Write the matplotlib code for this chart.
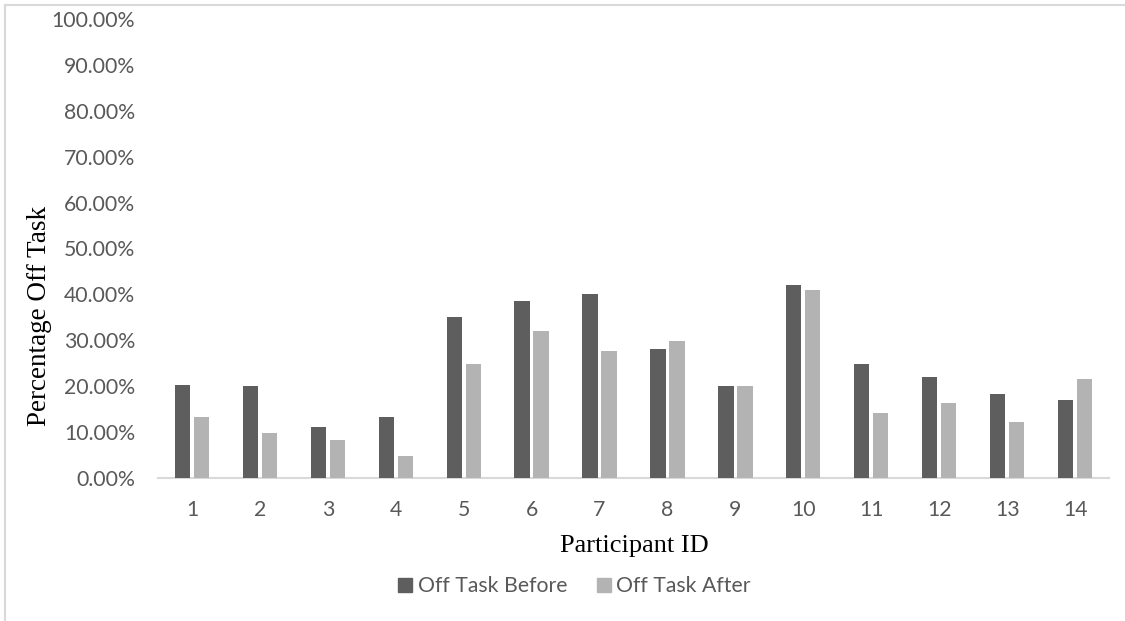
import matplotlib
matplotlib.use("Agg")
import matplotlib.pyplot as plt
from matplotlib.lines import Line2D
from matplotlib.ticker import FuncFormatter, MultipleLocator
import numpy as np

participants = ["1", "2", "3", "4", "5", "6", "7", "8", "9", "10", "11", "12", "13", "14"]
off_task_before = [20.2, 20.0, 11.1, 13.2, 35.1, 38.5, 40.1, 28.2, 20.0, 42.0, 24.8, 21.9, 18.2, 17.1]
off_task_after = [13.2, 9.8, 8.2, 4.9, 24.9, 32.0, 27.7, 29.8, 20.0, 41.0, 14.2, 16.3, 12.3, 21.6]

W, H = 1125, 621
fig = plt.figure(figsize=(W / 100, H / 100), dpi=100)
fig.patch.set_facecolor("white")

# plot area in pixel coordinates
left, right, top, bottom = 158, 1109, 19, 478
ax = fig.add_axes([left / W, 1 - bottom / H, (right - left) / W, (bottom - top) / H])

tick_font = "Lato"
tick_color = "#595959"
tick_size = 15.3
dark = "#5e5e5e"
light = "#b3b3b3"

x = np.arange(len(participants))
bw = 0.225
off = 0.14
ax.bar(x - off, off_task_before, width=bw, color=dark, label="Off Task Before", zorder=3)
ax.bar(x + off, off_task_after, width=bw, color=light, label="Off Task After", zorder=3)

ax.set_xlim(-0.5, len(participants) - 0.5)
ax.set_ylim(0, 100)
ax.yaxis.set_major_locator(MultipleLocator(10))
ax.yaxis.set_major_formatter(FuncFormatter(lambda v, p: f"{v:.2f}%"))
ax.set_xticks(x)
ax.set_xticklabels(participants)

for s in ["top", "right", "left"]:
    ax.spines[s].set_visible(False)
ax.spines["bottom"].set_color("#d9d9d9")
ax.spines["bottom"].set_linewidth(1.5)
ax.tick_params(axis="both", length=0, labelsize=tick_size, labelcolor=tick_color)
ax.tick_params(axis="y", pad=16.5)
ax.tick_params(axis="x", pad=16)
for lbl in ax.get_xticklabels() + ax.get_yticklabels():
    lbl.set_fontfamily(tick_font)

# axis titles
fig.text(40 / W, 1 - 316 / H, "Percentage Off Task", rotation=90, ha="center", va="center",
         fontsize=19.5, family="Liberation Serif", color="black")
fig.text(634 / W, 1 - 546 / H, "Participant ID", ha="center", va="center",
         fontsize=19, family="Liberation Serif", color="black")

# legend
handles = [Line2D([], [], marker="s", linestyle="none", markersize=10, color=dark),
           Line2D([], [], marker="s", linestyle="none", markersize=10, color=light)]
leg = fig.legend(handles, ["Off Task Before", "Off Task After"], loc="center",
                 bbox_to_anchor=(575 / W, 1 - 586 / H), ncol=2, frameon=False,
                 handlelength=0.6, handletextpad=0.3, columnspacing=1.4,
                 prop={"family": tick_font, "size": tick_size})
for t in leg.get_texts():
    t.set_color(tick_color)

# chart area border (left and top edges)
fig.add_artist(Line2D([5 / W, 5 / W], [0, 1 - 5 / H], transform=fig.transFigure,
                      color="#d9d9d9", linewidth=1.5))
fig.add_artist(Line2D([5 / W, 1], [1 - 5 / H, 1 - 5 / H], transform=fig.transFigure,
                      color="#d9d9d9", linewidth=1.5))

fig.savefig("out.png", dpi=100, facecolor="white")
